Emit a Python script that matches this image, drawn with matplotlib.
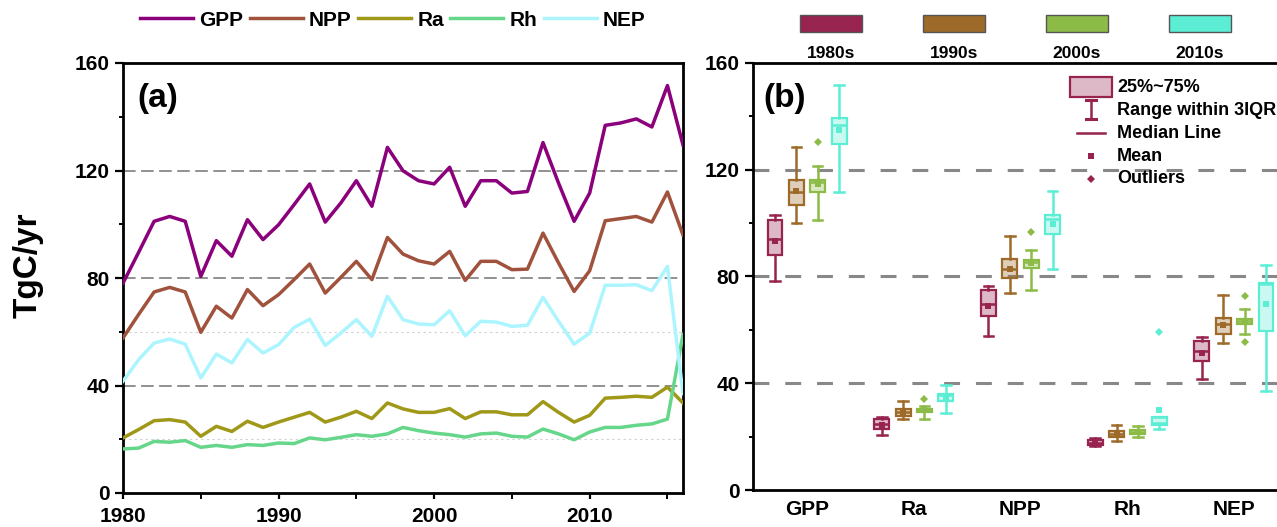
import numpy as np
import matplotlib.pyplot as plt
from matplotlib.patches import Rectangle
from matplotlib.colors import to_rgba
from matplotlib.ticker import MultipleLocator
import matplotlib.transforms as mtransforms

plt.rcParams['font.family'] = ['Liberation Sans', 'DejaVu Sans']
plt.rcParams['font.weight'] = 'bold'
plt.rcParams['axes.labelweight'] = 'bold'

# annual fluxes, TgC/yr, 1980-2016
years = np.arange(1980, 2017)
gpp = [78.1, 89.5, 101.1, 102.9, 101.1, 80.6, 93.9, 88.1, 101.7, 94.3,
       99.8, 107.3, 115.0, 100.8, 107.9, 116.2, 106.7, 128.6, 119.9, 116.2,
       115.0, 121.2, 106.7, 116.2, 116.2, 111.6, 112.2, 130.4, 115.3, 101.1,
       111.6, 136.8, 137.7, 139.2, 136.2, 151.6, 129.5]
npp = [57.7, 66.4, 74.8, 76.5, 74.8, 59.8, 69.5, 65.1, 75.7, 69.7,
       73.8, 79.4, 85.2, 74.4, 80.2, 86.2, 79.4, 95.1, 88.9, 86.4,
       85.2, 89.9, 79.1, 86.2, 86.2, 83.1, 83.3, 96.7, 85.6, 75.0,
       82.7, 101.3, 102.1, 102.9, 100.8, 112.0, 96.0]
ra = [20.5, 23.6, 26.9, 27.3, 26.4, 21.1, 24.8, 22.9, 26.7, 24.4,
      26.4, 28.2, 30.0, 26.4, 28.2, 30.4, 27.7, 33.5, 31.3, 30.0,
      30.0, 31.4, 27.7, 30.2, 30.2, 29.1, 29.1, 34.0, 30.0, 26.4,
      28.9, 35.3, 35.6, 36.0, 35.6, 39.4, 33.5]
rh = [16.4, 16.7, 19.2, 18.9, 19.5, 17.0, 17.7, 17.0, 18.0, 17.7,
      18.6, 18.4, 20.5, 19.8, 20.7, 21.7, 21.1, 22.0, 24.4, 23.2,
      22.3, 21.7, 20.8, 22.0, 22.3, 21.1, 20.8, 23.8, 22.0, 19.8,
      22.7, 24.4, 24.4, 25.2, 25.7, 27.5, 59.0]
nep = [41.6, 49.6, 55.8, 57.3, 55.4, 42.8, 51.7, 48.4, 57.1, 52.1,
       55.2, 61.6, 64.7, 54.9, 59.5, 64.5, 58.3, 73.2, 64.5, 62.9,
       62.6, 67.8, 58.5, 63.9, 63.6, 62.0, 62.4, 72.8, 63.9, 55.4,
       59.5, 77.3, 77.3, 77.5, 75.3, 84.3, 37.0]

series = {'GPP': gpp, 'NPP': npp, 'Ra': ra, 'Rh': rh, 'NEP': nep}
line_colors = {'GPP': '#8b007b', 'NPP': '#a0523d', 'Ra': '#a09818',
               'Rh': '#66d68a', 'NEP': '#acf5ff'}

box_order = ['GPP', 'Ra', 'NPP', 'Rh', 'NEP']
decades = ['1980s', '1990s', '2000s', '2010s']
decade_starts = [1980, 1990, 2000, 2010]
decade_colors = ['#97244f', '#9e6a2a', '#8cbb47', '#5ceed5']


def hinge_stats(vals, whis=3.0):
    # quartiles as medians of the lower/upper halves, whiskers within 3 IQR
    v = np.sort(np.asarray(vals, float))
    n = len(v)
    half = n // 2
    q1 = np.median(v[:half])
    q3 = np.median(v[half + n % 2:])
    iqr = q3 - q1
    lo, hi = q1 - whis * iqr, q3 + whis * iqr
    inside = v[(v >= lo) & (v <= hi)]
    return dict(med=np.median(v), q1=q1, q3=q3, whislo=inside.min(),
                whishi=inside.max(), mean=v.mean(),
                fliers=v[(v < lo) | (v > hi)])


fig = plt.figure(figsize=(12.77, 5.27), dpi=100)
ax1 = fig.add_axes([123 / 1277, 34 / 527, 560 / 1277, 430 / 527])
ax2 = fig.add_axes([753 / 1277, 37 / 527, 537 / 1277, 427.3 / 527])

# ---- (a) time series
for y in (40, 80, 120):
    ax1.axhline(y, color='#888888', lw=1.3, ls=(0, (7, 3)), zorder=1)
for y in (20, 60):
    ax1.axhline(y, color='#d0d0d0', lw=0.8, ls=(0, (2, 3)), zorder=1)
for name, vals in series.items():
    ax1.plot(years, vals, color=line_colors[name], lw=2.5, label=name, zorder=3)

ax1.set_xlim(1980, 2016)
ax1.set_ylim(0, 160)
ax1.set_xticks([1980, 1990, 2000, 2010])
ax1.xaxis.set_minor_locator(MultipleLocator(5))
ax1.yaxis.set_major_locator(MultipleLocator(40))
ax1.yaxis.set_minor_locator(MultipleLocator(20))
ax1.set_ylabel('TgC/yr', fontsize=24, fontweight='bold')
ax1.yaxis.set_label_coords(-0.142, 0.53)
ax1.text(0.025, 0.953, '(a)', transform=ax1.transAxes, fontsize=24,
         fontweight='bold', va='top', ha='left')
ax1.legend(loc='center', bbox_to_anchor=(0.482, 1.1), ncol=5, frameon=False,
           fontsize=15, handlelength=2.55, handletextpad=0.3,
           columnspacing=0.3)

# ---- (b) decadal boxes
for y in (40, 80, 120):
    ax2.axhline(y, color='#888888', lw=2.2, ls=(0, (5.2, 5.2)), zorder=1)

stats, positions, colors = [], [], []
for g, name in enumerate(box_order):
    vals = np.asarray(series[name])
    for k, start in enumerate(decade_starts):
        sel = (years >= start) & (years < start + 10)
        stats.append(hinge_stats(vals[sel]))
        positions.append(g + 1 + (k - 1.5) * 0.2)
        colors.append(decade_colors[k])

bp = ax2.bxp(stats, positions=positions, widths=0.14, capwidths=0.09,
             patch_artist=True, showmeans=True, manage_ticks=False,
             meanprops=dict(marker='s', markersize=4.5, markeredgewidth=0),
             flierprops=dict(marker='D', markersize=4.5, markeredgewidth=0),
             zorder=3)
for i, c in enumerate(colors):
    bp['boxes'][i].set(facecolor=to_rgba(c, 0.32), edgecolor=c, lw=1.6)
    for art in bp['whiskers'][2 * i:2 * i + 2] + bp['caps'][2 * i:2 * i + 2]:
        art.set(color=c, lw=1.8)
    bp['medians'][i].set(color=c, lw=1.8)
    bp['means'][i].set(markerfacecolor=c, markeredgecolor=c)
    bp['fliers'][i].set(markerfacecolor=c, markeredgecolor=c)

ax2.set_xlim(0.494, 5.525)
ax2.set_ylim(0, 160)
ax2.set_xticks(range(1, len(box_order) + 1))
ax2.set_xticklabels(box_order)
ax2.yaxis.set_major_locator(MultipleLocator(40))
ax2.yaxis.set_minor_locator(MultipleLocator(20))
ax2.spines['right'].set_visible(False)
nep_lab = ax2.get_xticklabels()[-1]
nep_lab.set_transform(nep_lab.get_transform() +
                      mtransforms.ScaledTranslation(0.07, -0.07, fig.dpi_scale_trans))
ax2.text(0.019, 0.952, '(b)', transform=ax2.transAxes, fontsize=24,
         fontweight='bold', va='top', ha='left')

# decade colour key above panel (b)
for k, (d, c) in enumerate(zip(decades, decade_colors)):
    x0 = 0.0875 + k * 0.229
    ax2.add_patch(Rectangle((x0, 1.072), 0.1155, 0.04, transform=ax2.transAxes,
                            facecolor=c, edgecolor='#555555', lw=1, clip_on=False))
    ax2.text(x0 + 0.0578, 1.022, d, transform=ax2.transAxes, ha='center',
             va='center', fontsize=12.5, fontweight='bold')

# symbol key inside panel (b)
kc = decade_colors[0]
tr = ax2.transAxes
ax2.add_patch(Rectangle((0.590, 0.920), 0.079, 0.0465, transform=tr,
                        facecolor=to_rgba(kc, 0.32), edgecolor=kc, lw=1.6))
ax2.plot([0.629, 0.629], [0.868, 0.913], color=kc, lw=1.8, transform=tr)
ax2.plot([0.620, 0.638], [0.913, 0.913], color=kc, lw=2.2, transform=tr)
ax2.plot([0.620, 0.638], [0.868, 0.868], color=kc, lw=2.2, transform=tr)
ax2.plot([0.603, 0.655], [0.835, 0.835], color=kc, lw=1.8, transform=tr)
ax2.plot([0.629], [0.781], marker='s', ms=4.5, mew=0, color=kc, transform=tr)
ax2.plot([0.629], [0.728], marker='D', ms=4.5, mew=0, color=kc, transform=tr)
key_labels = ['25%~75%', 'Range within 3IQR', 'Median Line', 'Mean', 'Outliers']
for lab, yk in zip(key_labels, [0.941, 0.889, 0.835, 0.781, 0.728]):
    ax2.text(0.678, yk, lab, transform=tr, fontsize=13, fontweight='bold',
             va='center', ha='left')

for ax in (ax1, ax2):
    for sp in ax.spines.values():
        sp.set_linewidth(2)
    ax.tick_params(axis='both', which='major', labelsize=15, width=1.6,
                   length=5.8, direction='out')
    ax.tick_params(axis='both', which='minor', width=1.4, length=2.8,
                   direction='out')
    ax.tick_params(axis='y', pad=4)
ax1.tick_params(axis='x', which='major', length=4, pad=6)
ax1.tick_params(axis='x', which='minor', length=4)
ax2.tick_params(axis='x', length=0, pad=7)
for lab in ax1.get_xticklabels() + ax1.get_yticklabels() + ax2.get_yticklabels() + ax2.get_xticklabels():
    lab.set_fontweight('bold')

fig.savefig('out.png', dpi=100)
